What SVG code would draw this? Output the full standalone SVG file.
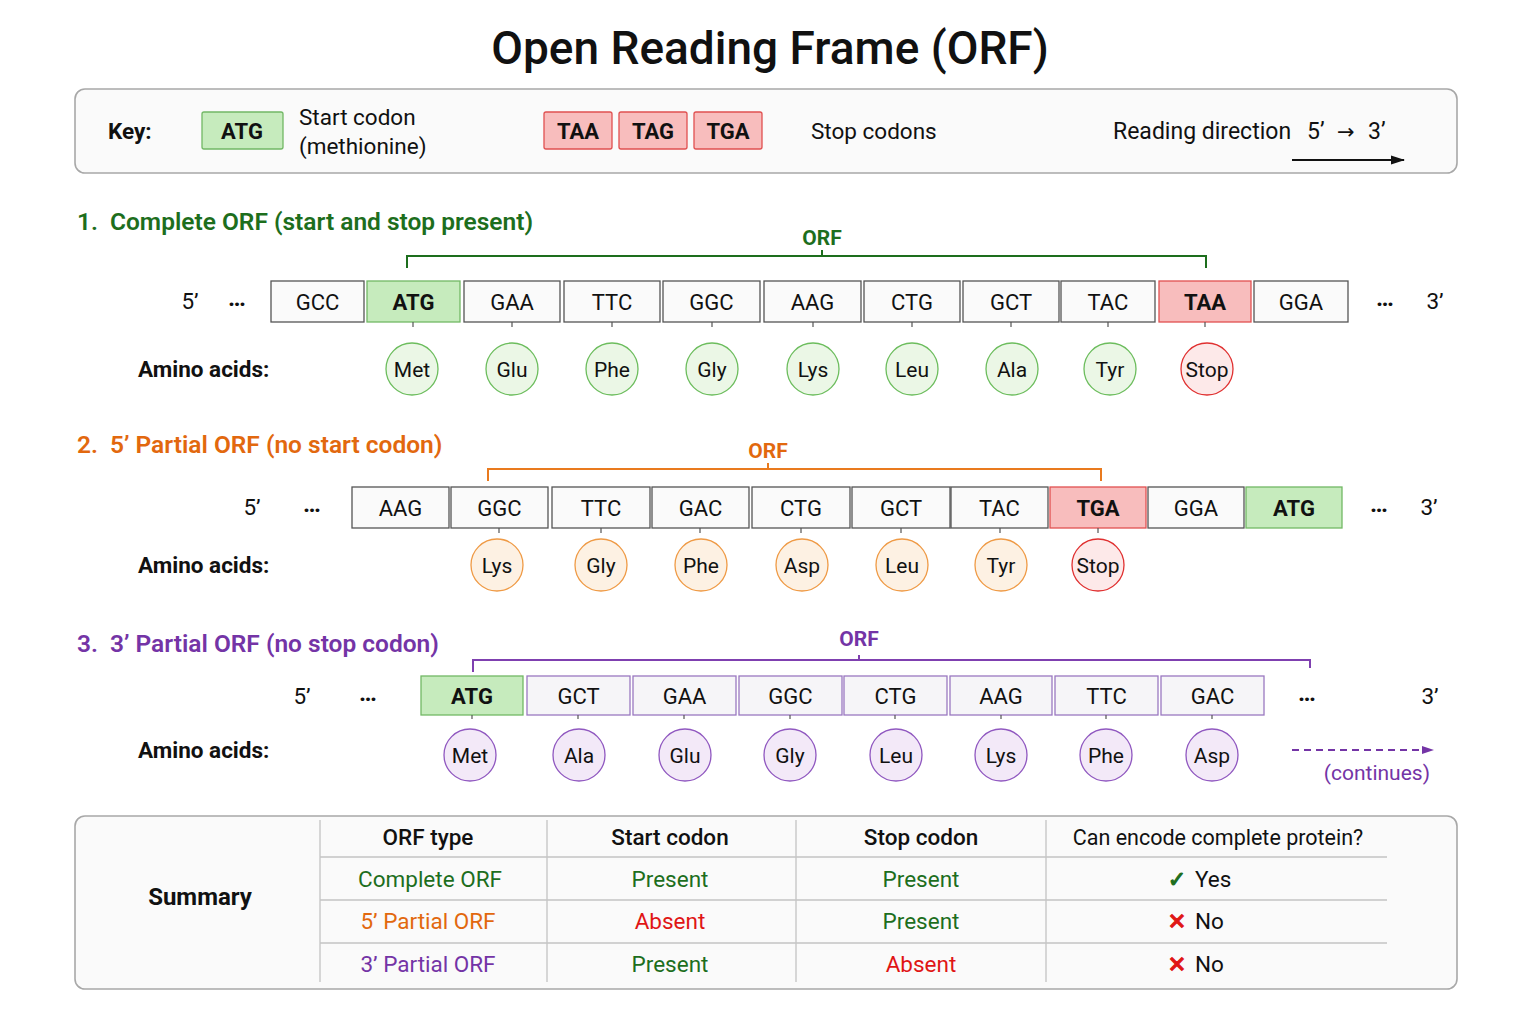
<svg xmlns="http://www.w3.org/2000/svg" width="1536" height="1024" viewBox="0 0 1536 1024">
<style>
text{font-family:Roboto,"Liberation Sans",sans-serif;fill:#111}
.title{font-size:46px;font-weight:500;text-anchor:middle}
.panel{fill:#fafafa;stroke:#a8a8a8;stroke-width:1.6}
.lbl{font-size:22.5px}
.b{font-weight:700}
.dots{font-size:24px;font-weight:700;text-anchor:middle;dominant-baseline:central}
.cod{font-size:22px;text-anchor:middle;dominant-baseline:central}
.box{fill:#fafafa;stroke:#555;stroke-width:1.3}
.box3{fill:#f6f5f8;stroke:#9a78c0;stroke-width:1.3}
.start{fill:#c6ebbd;stroke:#72b865;stroke-width:1.3}
.stop{fill:#f8bdbd;stroke:#e05050;stroke-width:1.3}
.aa{font-size:21px;text-anchor:middle;dominant-baseline:central}
.cg{fill:#ebf7e6;stroke:#6cbd5d;stroke-width:1.3}
.co{fill:#fdf1e3;stroke:#ef9a45;stroke-width:1.3}
.cp{fill:#f3e9f8;stroke:#9058c0;stroke-width:1.3}
.cr{fill:#fde9e9;stroke:#e03030;stroke-width:1.3}
.h{font-size:24.5px;font-weight:600}
.mid{text-anchor:middle;dominant-baseline:central}
.g{fill:#1d6e1d}.o{fill:#e2680e}.p{fill:#7434a6}.r{fill:#e01515}
.grid{stroke:#c4c4c4;stroke-width:1.3}
.tick{stroke:#555;stroke-width:1.2}
.tb{font-size:22.5px}
.sym{font-family:"DejaVu Sans",sans-serif;font-size:22px;text-anchor:middle;dominant-baseline:central;stroke-width:1.2}
</style>
<defs>
<marker id="ah" markerWidth="14" markerHeight="12" refX="13" refY="6" orient="auto" markerUnits="userSpaceOnUse"><path d="M0,1.5 L14,6 L0,10.5 z" fill="#111"/></marker>
<marker id="ahp" markerWidth="12" markerHeight="10" refX="11" refY="5" orient="auto" markerUnits="userSpaceOnUse"><path d="M0,1 L12,5 L0,9 z" fill="#7434a6"/></marker>
</defs>
<rect width="1536" height="1024" fill="#ffffff"/>
<text class="title" x="770" y="64">Open Reading Frame (ORF)</text>

<g id="key">
<rect class="panel" x="75" y="89" width="1382" height="84" rx="10"/>
<text class="lbl b" x="108" y="139">Key:</text>
<rect class="start" x="202" y="112" width="81" height="37" rx="2"/>
<text class="cod b" x="242" y="131">ATG</text>
<text class="lbl" x="299" y="125">Start codon</text>
<text class="lbl" x="299" y="154">(methionine)</text>
<rect class="stop" x="544" y="112" width="68" height="37" rx="2"/>
<text class="cod b" x="578" y="131">TAA</text>
<rect class="stop" x="619" y="112" width="68" height="37" rx="2"/>
<text class="cod b" x="653" y="131">TAG</text>
<rect class="stop" x="694" y="112" width="68" height="37" rx="2"/>
<text class="cod b" x="728" y="131">TGA</text>
<text class="lbl" x="811" y="139">Stop codons</text>
<text class="lbl" x="1113" y="139" style="font-size:23px">Reading direction</text>
<text class="lbl" x="1307" y="139" style="font-size:23px">5’<tspan x="1337" style="font-family:'DejaVu Sans',sans-serif;font-size:21px">→</tspan><tspan x="1368">3’</tspan></text>
</g>

<g id="section1">
<text class="h g" x="77" y="230">1.<tspan dx="12">Complete ORF (start and stop present)</tspan></text>
<text class="lbl b g" x="822" y="245" text-anchor="middle" style="font-size:21px">ORF</text>
<text class="lbl mid" x="190" y="301">5’</text>
<text class="dots" x="237" y="298">…</text>
<text class="dots" x="1385" y="298">…</text>
<text class="lbl mid" x="1435" y="301">3’</text>
<g id="r1-codons">
<rect class="box" x="271" y="281" width="93" height="41"/><text class="cod" x="317.5" y="302">GCC</text>
<rect class="start" x="367" y="281" width="93" height="41"/><text class="cod b" x="413.5" y="302">ATG</text>
<rect class="box" x="464" y="281" width="96" height="41"/><text class="cod" x="512" y="302">GAA</text>
<rect class="box" x="564" y="281" width="96" height="41"/><text class="cod" x="612" y="302">TTC</text>
<rect class="box" x="663" y="281" width="97" height="41"/><text class="cod" x="711.5" y="302">GGC</text>
<rect class="box" x="764" y="281" width="97" height="41"/><text class="cod" x="812.5" y="302">AAG</text>
<rect class="box" x="864" y="281" width="96" height="41"/><text class="cod" x="912" y="302">CTG</text>
<rect class="box" x="963" y="281" width="96" height="41"/><text class="cod" x="1011" y="302">GCT</text>
<rect class="box" x="1061" y="281" width="94" height="41"/><text class="cod" x="1108" y="302">TAC</text>
<rect class="stop" x="1159" y="281" width="92" height="41"/><text class="cod b" x="1205" y="302">TAA</text>
<rect class="box" x="1254" y="281" width="94" height="41"/><text class="cod" x="1301" y="302">GGA</text>
</g>
<text class="lbl b" x="138" y="377">Amino acids:</text>
<g id="r1-aa">
<circle class="cg" cx="412" cy="369" r="26"/><text class="aa" x="412" y="370">Met</text>
<circle class="cg" cx="512" cy="369" r="26"/><text class="aa" x="512" y="370">Glu</text>
<circle class="cg" cx="612" cy="369" r="26"/><text class="aa" x="612" y="370">Phe</text>
<circle class="cg" cx="712" cy="369" r="26"/><text class="aa" x="712" y="370">Gly</text>
<circle class="cg" cx="813" cy="369" r="26"/><text class="aa" x="813" y="370">Lys</text>
<circle class="cg" cx="912" cy="369" r="26"/><text class="aa" x="912" y="370">Leu</text>
<circle class="cg" cx="1012" cy="369" r="26"/><text class="aa" x="1012" y="370">Ala</text>
<circle class="cg" cx="1110" cy="369" r="26"/><text class="aa" x="1110" y="370">Tyr</text>
<circle class="cr" cx="1207" cy="369" r="26"/><text class="aa" x="1207" y="370">Stop</text>
</g>
</g>

<g id="section2">
<text class="h o" x="77" y="453">2.<tspan dx="12">5’ Partial ORF (no start codon)</tspan></text>
<text class="lbl b o" x="768" y="458" text-anchor="middle" style="font-size:21px">ORF</text>
<text class="lbl mid" x="252" y="507">5’</text>
<text class="dots" x="312" y="504">…</text>
<text class="dots" x="1379" y="504">…</text>
<text class="lbl mid" x="1429" y="507">3’</text>
<g id="r2-codons">
<rect class="box" x="352" y="487" width="97" height="41"/><text class="cod" x="400.5" y="508">AAG</text>
<rect class="box" x="451" y="487" width="97" height="41"/><text class="cod" x="499.5" y="508">GGC</text>
<rect class="box" x="552" y="487" width="98" height="41"/><text class="cod" x="601" y="508">TTC</text>
<rect class="box" x="652" y="487" width="97" height="41"/><text class="cod" x="700.5" y="508">GAC</text>
<rect class="box" x="752" y="487" width="98" height="41"/><text class="cod" x="801" y="508">CTG</text>
<rect class="box" x="852" y="487" width="98" height="41"/><text class="cod" x="901" y="508">GCT</text>
<rect class="box" x="951" y="487" width="97" height="41"/><text class="cod" x="999.5" y="508">TAC</text>
<rect class="stop" x="1050" y="487" width="96" height="41"/><text class="cod b" x="1098" y="508">TGA</text>
<rect class="box" x="1148" y="487" width="96" height="41"/><text class="cod" x="1196" y="508">GGA</text>
<rect class="start" x="1246" y="487" width="96" height="41"/><text class="cod b" x="1294" y="508">ATG</text>
</g>
<text class="lbl b" x="138" y="573">Amino acids:</text>
<g id="r2-aa">
<circle class="co" cx="497" cy="565" r="26"/><text class="aa" x="497" y="566">Lys</text>
<circle class="co" cx="601" cy="565" r="26"/><text class="aa" x="601" y="566">Gly</text>
<circle class="co" cx="701" cy="565" r="26"/><text class="aa" x="701" y="566">Phe</text>
<circle class="co" cx="802" cy="565" r="26"/><text class="aa" x="802" y="566">Asp</text>
<circle class="co" cx="902" cy="565" r="26"/><text class="aa" x="902" y="566">Leu</text>
<circle class="co" cx="1001" cy="565" r="26"/><text class="aa" x="1001" y="566">Tyr</text>
<circle class="cr" cx="1098" cy="565" r="26"/><text class="aa" x="1098" y="566">Stop</text>
</g>
</g>

<g id="section3">
<text class="h p" x="77" y="652">3.<tspan dx="12">3’ Partial ORF (no stop codon)</tspan></text>
<text class="lbl b p" x="859" y="646" text-anchor="middle" style="font-size:21px">ORF</text>
<text class="lbl mid" x="302" y="696">5’</text>
<text class="dots" x="368" y="693">…</text>
<text class="dots" x="1307" y="693">…</text>
<text class="lbl mid" x="1430" y="696">3’</text>
<g id="r3-codons">
<rect class="start" x="421" y="676" width="102" height="39"/><text class="cod b" x="472" y="696">ATG</text>
<rect class="box3" x="527" y="676" width="103" height="39"/><text class="cod" x="578.5" y="696">GCT</text>
<rect class="box3" x="633" y="676" width="103" height="39"/><text class="cod" x="684.5" y="696">GAA</text>
<rect class="box3" x="739" y="676" width="103" height="39"/><text class="cod" x="790.5" y="696">GGC</text>
<rect class="box3" x="844" y="676" width="103" height="39"/><text class="cod" x="895.5" y="696">CTG</text>
<rect class="box3" x="950" y="676" width="102" height="39"/><text class="cod" x="1001" y="696">AAG</text>
<rect class="box3" x="1055" y="676" width="103" height="39"/><text class="cod" x="1106.5" y="696">TTC</text>
<rect class="box3" x="1161" y="676" width="103" height="39"/><text class="cod" x="1212.5" y="696">GAC</text>
</g>
<text class="lbl b" x="138" y="758">Amino acids:</text>
<g id="r3-aa">
<circle class="cp" cx="470" cy="755" r="26"/><text class="aa" x="470" y="756">Met</text>
<circle class="cp" cx="579" cy="755" r="26"/><text class="aa" x="579" y="756">Ala</text>
<circle class="cp" cx="685" cy="755" r="26"/><text class="aa" x="685" y="756">Glu</text>
<circle class="cp" cx="790" cy="755" r="26"/><text class="aa" x="790" y="756">Gly</text>
<circle class="cp" cx="896" cy="755" r="26"/><text class="aa" x="896" y="756">Leu</text>
<circle class="cp" cx="1001" cy="755" r="26"/><text class="aa" x="1001" y="756">Lys</text>
<circle class="cp" cx="1106" cy="755" r="26"/><text class="aa" x="1106" y="756">Phe</text>
<circle class="cp" cx="1212" cy="755" r="26"/><text class="aa" x="1212" y="756">Asp</text>
</g>
<text class="lbl p" x="1430" y="780" text-anchor="end" style="font-size:21px">(continues)</text>
</g>

<g id="connectors" fill="none">
<line x1="1292" y1="160" x2="1404" y2="160" stroke="#111" stroke-width="1.8" marker-end="url(#ah)"/>
<path d="M407,268 V256 H1206 V268 M822,256 V250" stroke="#1d6e1d" stroke-width="2"/>
<path d="M488,481 V469 H1101 V481 M768,469 V463" stroke="#e97a1e" stroke-width="2"/>
<path d="M473,672 V660 H1310 V668 M859,660 V655" stroke="#7f40b0" stroke-width="2"/>
<line x1="1292" y1="750" x2="1433" y2="750" stroke="#7434a6" stroke-width="1.8" stroke-dasharray="7,5" marker-end="url(#ahp)"/>
<g class="tick">
<path d="M413,322v5M512,322v5M612,322v5M712,322v5M813,322v5M912,322v5M1011,322v5M1108,322v5M1205,322v5"/>
<path d="M499,528v5M601,528v5M700,528v5M801,528v5M901,528v5M1000,528v5M1098,528v5"/>
<path d="M472,715v4M578,715v4M684,715v4M790,715v4M895,715v4M1001,715v4M1106,715v4M1212,715v4"/>
</g>
</g>

<g id="summary">
<rect class="panel" x="75" y="816" width="1382" height="173" rx="10"/>
<text class="mid b" x="200" y="897" style="font-size:24px">Summary</text>
<path class="grid" d="M320,820V982M547,820V982M796,820V982M1046,820V982M320,857H1387M320,900H1387M320,943H1387"/>
<g class="tb">
<text class="mid" x="428" y="837" style="font-weight:500">ORF type</text>
<text class="mid" x="670" y="837" style="font-weight:500">Start codon</text>
<text class="mid" x="921" y="837" style="font-weight:500">Stop codon</text>
<text class="mid" x="1218" y="837" style="font-size:21.5px">Can encode complete protein?</text>
<text class="mid g" x="430" y="879">Complete ORF</text>
<text class="mid g" x="670" y="879">Present</text>
<text class="mid g" x="921" y="879">Present</text>
<text class="sym g" x="1177" y="879" stroke="#1d6e1d">✓</text>
<text x="1195" y="879" dominant-baseline="central">Yes</text>
<text class="mid o" x="428" y="921">5’ Partial ORF</text>
<text class="mid r" x="670" y="921">Absent</text>
<text class="mid g" x="921" y="921">Present</text>
<text class="sym r" x="1177" y="921" stroke="#e01515">✕</text>
<text x="1195" y="921" dominant-baseline="central">No</text>
<text class="mid p" x="428" y="964">3’ Partial ORF</text>
<text class="mid g" x="670" y="964">Present</text>
<text class="mid r" x="921" y="964">Absent</text>
<text class="sym r" x="1177" y="964" stroke="#e01515">✕</text>
<text x="1195" y="964" dominant-baseline="central">No</text>
</g>
</g>
</svg>
